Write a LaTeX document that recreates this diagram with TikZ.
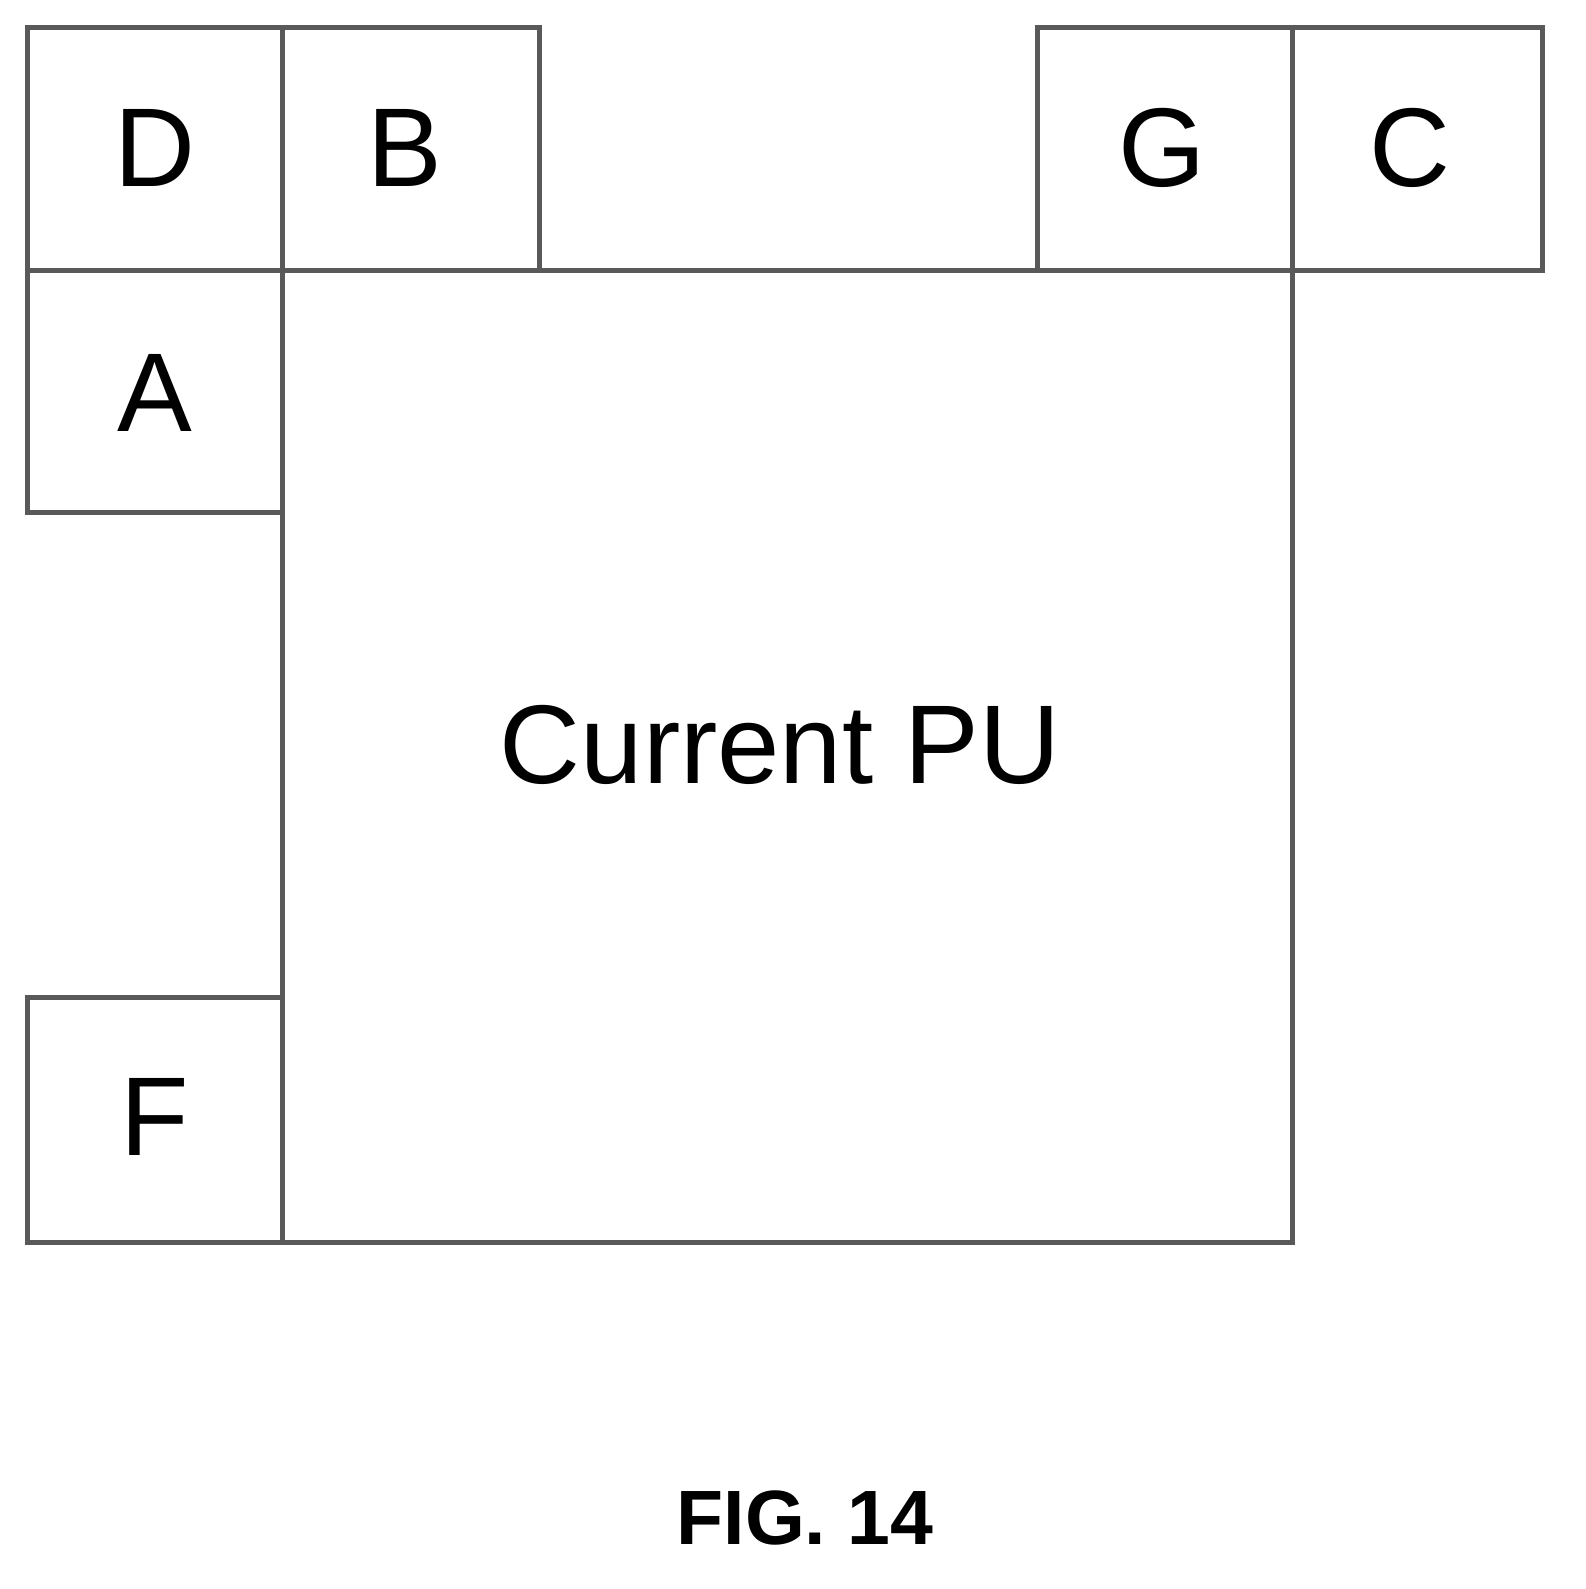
\documentclass[tikz,border=0pt]{standalone}
\usepackage{fontspec}
\setmainfont{Liberation Sans}
\begin{document}
\begin{tikzpicture}[x=1pt,y=-1pt,
  blk/.style={draw=gray!70!black,line width=5pt,inner sep=0pt,anchor=north west},
  lab/.style={font=\fontsize{112}{112}\selectfont}]
\useasboundingbox (0,0) rectangle (1585,1589);
\node[blk,minimum width=255pt,minimum height=243pt] (D) at (25,25) {};
\node[blk,minimum width=257pt,minimum height=243pt] (B) at (280,25) {};
\node[blk,minimum width=255pt,minimum height=243pt] (G) at (1035,25) {};
\node[blk,minimum width=250pt,minimum height=243pt] (C) at (1290,25) {};
\node[blk,minimum width=255pt,minimum height=242pt] (A) at (25,268) {};
\node[blk,minimum width=255pt,minimum height=245pt] (F) at (25,995) {};
\node[blk,minimum width=1010pt,minimum height=972pt] (PU) at (280,268) {};
\node[lab] (tD) at (155,148) {D};
\node[lab] (tB) at (405,148) {B};
\node[lab] (tG) at (1162,148) {G};
\node[lab] (tC) at (1410,148) {C};
\node[lab] (tA) at (155,393) {A};
\node[lab] (tF) at (155,1117) {F};
\node[lab] (tPU) at (780,745) {Current PU};
\node[font=\fontsize{77}{77}\selectfont\bfseries] (fig) at (805,1518) {FIG. 14};
\end{tikzpicture}
\end{document}
